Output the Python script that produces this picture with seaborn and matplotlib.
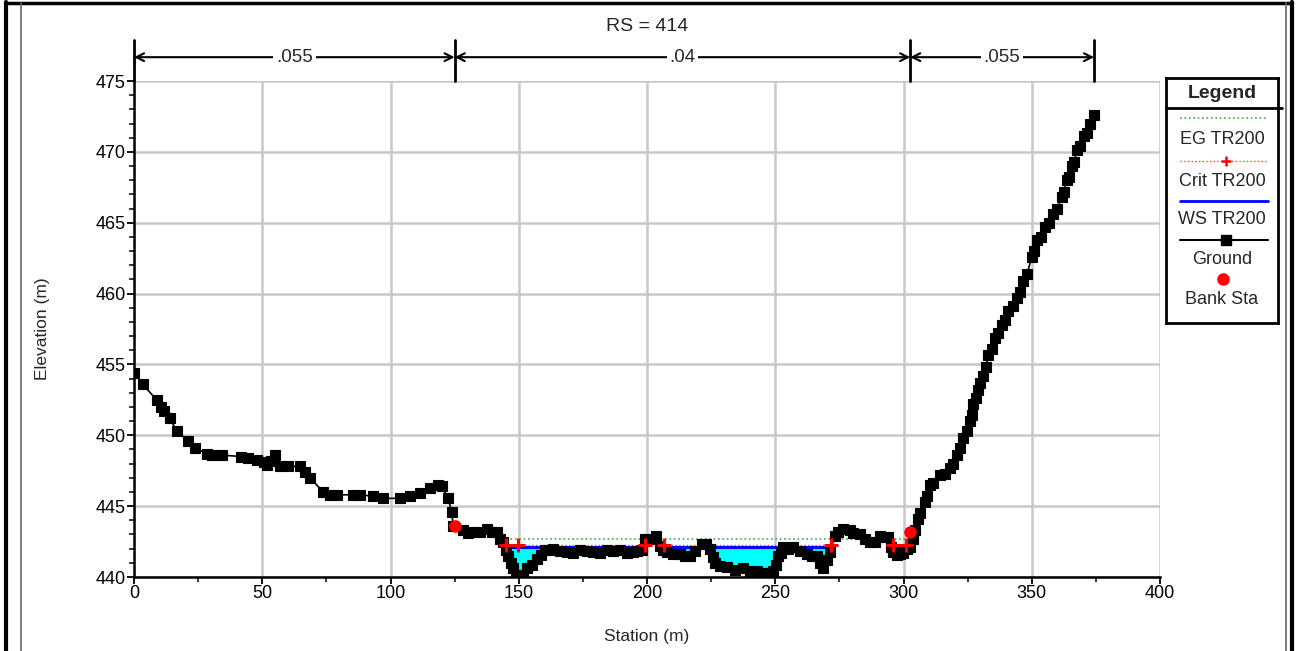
import numpy as np
import pandas as pd
import matplotlib
matplotlib.use("Agg")
import matplotlib.pyplot as plt
from matplotlib.lines import Line2D
import seaborn as sns

# ground profile: station (m), elevation (m)
station = [0, 3.4, 8.8, 10.4, 11.6, 14, 16.6, 21.2, 23.8, 28.3, 30.3, 34.2, 41.9, 44.6,
           47.8, 50.5, 51.7, 53.5, 55, 56.9, 60.2, 64.7, 66.7, 68.6, 73.8, 76.5, 79,
           85.5, 88, 93.3, 97.2, 103.7, 107.6, 111.5, 115.4, 118.6, 119.9, 122.5, 123.8,
           124.5, 128.4, 130.3, 132.3, 134.9, 137.5, 139.4, 141.4, 142.7, 144, 145,
           145.9, 146.9, 147.9, 149, 149.8, 151.5, 153.1, 155, 157, 158.5, 160.2, 161.9,
           163.4, 166.1, 168.7, 171.3, 173.9, 176.5, 179.1, 181.7, 184.3, 186.9, 189.5,
           192.1, 194.7, 196, 197.9, 199.2, 201.2, 203.7, 205, 206.4, 207.7, 210.3,
           212.9, 214.9, 216.8, 218.8, 221.3, 223, 224.6, 225.6, 226.5, 228.5, 231,
           234.3, 237.5, 240.2, 242.7, 244.7, 246.6, 248, 249.2, 250.3, 251.2, 252.1,
           253.1, 255.1, 257, 259.6, 262.2, 264.2, 266.1, 267.4, 268.7, 270, 271.3,
           273.3, 274.6, 276.5, 279.1, 280.4, 283, 285, 286.9, 288.9, 290.8, 292.8,
           294.1, 295, 296, 297.3, 298.6, 299.9, 301.2, 302.5, 303.8, 304.5, 305.7,
           306.4, 308.4, 309, 310.3, 311.6, 314.2, 316.2, 318.1, 319.4, 320.7, 322,
           323.3, 324.6, 325.9, 326.6, 327.2, 328.3, 329.2, 329.8, 331.1, 332.2, 333.1,
           334.4, 335.7, 336.9, 338.3, 339.6, 340.9, 342.5, 344.1, 345.4, 346.7, 348.2,
           350, 350.8, 351.9, 353.5, 355.2, 356.9, 358.4, 360, 361.7, 362.6, 363.6,
           364.7, 365.6, 366.5, 367.6, 368.9, 370.2, 371.4, 372.8, 374.1]
elevation = [454.4, 453.6, 452.5, 452.0, 451.7, 451.2, 450.3, 449.6, 449.1, 448.7, 448.6,
             448.6, 448.5, 448.4, 448.25, 448.1, 447.9, 448.2, 448.6, 447.8, 447.8, 447.8,
             447.4, 447.0, 446.0, 445.8, 445.8, 445.8, 445.8, 445.7, 445.55, 445.55,
             445.7, 445.9, 446.25, 446.5, 446.4, 445.55, 444.6,
             443.6, 443.3, 443.1, 443.2, 443.2, 443.4, 443.2, 443.2, 442.7, 442.5, 441.9,
             441.5, 441.0, 440.6, 440.15, 440.1, 440.15, 440.6, 440.85, 441.3, 441.55,
             441.9, 441.9, 442.0, 441.8, 441.75, 441.7, 441.9, 441.8, 441.75, 441.7,
             441.9, 441.8, 441.9, 441.7, 441.75, 441.8, 441.9, 442.7, 442.7, 442.9,
             442.2, 441.9, 441.75, 441.6, 441.6, 441.5, 441.5, 441.8, 442.3, 442.3,
             442.0, 441.4, 441.0, 440.8, 440.7, 440.5, 440.6, 440.45, 440.45, 440.3,
             440.3, 440.3, 440.45, 440.85, 441.5, 441.7, 442.1, 442.0, 442.1, 441.8,
             441.6, 441.5, 441.5, 441.0, 440.6, 441.2, 441.75, 442.9, 443.2, 443.4,
             443.3, 443.1, 443.05, 442.7, 442.5, 442.5, 442.9, 442.85, 442.8, 442.1,
             441.75, 441.55, 441.6, 441.7, 442.0, 442.1, 442.7, 443.3, 444.1, 444.5,
             445.3, 445.7, 446.5, 446.6, 447.2, 447.3, 447.7, 448.0, 448.6, 449.1,
             449.8, 450.3, 451.0, 451.4, 452.2, 452.6, 453.2, 453.7, 454.2, 454.85,
             455.7, 456.1, 456.9, 457.2, 457.8, 458.1, 458.8, 459.1, 459.7, 460.1,
             460.9, 461.4, 462.6, 463.0, 463.75, 464.0, 464.7, 465.0, 465.6, 466.0,
             466.8, 467.2, 468.0, 468.25, 469.0, 469.3, 470.1, 470.4, 471.1, 471.3,
             472.0, 472.6]

bank_sta = [125.0, 302.6]
bank_elev = [443.6, 443.2]

ws_elev = 442.1
crit_elev = 442.25
eg_elev = 442.7
ws_edges = [(145.0, 199.2), (206.6, 271.6), (296.0, 301.0)]
crit_sta = [145.0, 149.6, 199.2, 206.6, 271.6, 296.0, 301.0]
eg_range = (145.0, 301.2)

n_sta = [0.0, 125.0, 302.6, 374.3]
n_vals = ['.055', '.04', '.055']

df = pd.DataFrame({"Station": station, "Elevation": elevation})

sns.set_style("white")
plt.rcParams['font.family'] = ['Liberation Sans', 'DejaVu Sans']

W, H = 1296, 651
fig = plt.figure(figsize=(W / 100, H / 100), dpi=100)
ax = fig.add_axes([134 / W, 1 - 577 / H, 1026 / W, 496 / H])

sta = np.array(station)
elev = np.array(elevation)
wet = (elev < ws_elev) & (sta > 140) & (sta < 305)
ax.fill_between(sta, elev, ws_elev, where=wet, interpolate=True,
                color="#00ffff", lw=0, zorder=2)

# EG, crit and WS lines
ax.plot(eg_range, [eg_elev, eg_elev], color="#3cb043", ls=":", lw=1.2, zorder=3)
for a, b in ws_edges:
    ax.plot([a, b], [crit_elev, crit_elev], color="#ff4040", ls=":", lw=1, zorder=3)
    ax.plot([a, b], [ws_elev, ws_elev], color="#0000ff", lw=2.2, zorder=3)

sns.lineplot(data=df, x="Station", y="Elevation", ax=ax, color="black", lw=1.2,
             marker="s", markersize=7.5, markeredgewidth=0.8, markeredgecolor="black",
             sort=False, estimator=None, zorder=4)

ax.plot(crit_sta, [crit_elev] * len(crit_sta), ls="none", marker="+",
        color="red", markersize=10, markeredgewidth=2.2, zorder=5)
ax.plot(bank_sta, bank_elev, ls="none", marker="o", color="red",
        markersize=9, markeredgewidth=0, zorder=6)

ax.set_xlim(0, 400)
ax.set_ylim(440, 475)
ax.set_xticks(np.arange(0, 401, 50))
ax.set_xticks(np.arange(0, 401, 25), minor=True)
ax.set_yticks(np.arange(440, 476, 5))
ax.set_yticks(np.arange(440, 476, 1), minor=True)
ax.grid(True, which="major", color="#c8c8c8", lw=1.8, zorder=0)
ax.set_axisbelow(True)
for s in ["top", "right"]:
    ax.spines[s].set_visible(False)
for s in ["left", "bottom"]:
    ax.spines[s].set_color("black")
    ax.spines[s].set_linewidth(1.8)
ax.tick_params(which="major", direction="out", length=5, width=1.3,
               labelsize=13, colors="black", pad=1, left=True, bottom=True)
ax.tick_params(which="minor", direction="out", length=3.5, width=1.3,
               left=True, bottom=True)
ax.set_xlabel("Station (m)", fontsize=12.5, labelpad=19)
ax.set_ylabel("Elevation (m)", fontsize=12.5, labelpad=33)

ax.set_title("RS = 414", fontsize=14, pad=36)

# Manning's n bars and arrows above the plot
trans = ax.get_xaxis_transform()
for s in n_sta:
    ax.plot([s, s], [1.0, 1.083], color="black", lw=2, transform=trans, clip_on=False)
for i, v in enumerate(n_vals):
    mid = (n_sta[i] + n_sta[i + 1]) / 2
    for end in (n_sta[i], n_sta[i + 1]):
        ax.annotate("", xy=(end, 1.048), xytext=(mid, 1.048), xycoords=trans,
                    textcoords=trans,
                    arrowprops=dict(arrowstyle="->", color="black", lw=1.5,
                                    shrinkA=0, shrinkB=0, mutation_scale=14))
    ax.text(mid, 1.048, v, transform=trans, ha="center", va="center", fontsize=13.5,
            bbox=dict(facecolor="white", edgecolor="none", pad=2), zorder=10)

# legend box
lg = fig.add_axes([1166 / W, 1 - 323 / H, 112 / W, 245 / H])
lg.set_xlim(0, 1)
lg.set_ylim(0, 1)
lg.set_xticks([])
lg.set_yticks([])
for s in lg.spines.values():
    s.set_color("black")
    s.set_linewidth(2)


def ly(py):
    return (323 - py) / 245


lg.plot([0, 1.04], [ly(108), ly(108)], color="black", lw=2, clip_on=False)
lg.text(0.5, ly(93), "Legend", ha="center", va="center", fontsize=14, fontweight="bold")
x0, x1, xm = 0.125, 0.911, 0.54
lg.plot([x0, x1], [ly(118), ly(118)], color="#3cb043", ls=":", lw=1.2)
lg.text(0.5, ly(140), "EG TR200", ha="center", va="center", fontsize=13)
lg.plot([x0, x1], [ly(161), ly(161)], color="#ff4040", ls=":", lw=1)
lg.plot([xm], [ly(161)], marker="+", color="red", markersize=7, markeredgewidth=1.8)
lg.text(0.5, ly(181), "Crit TR200", ha="center", va="center", fontsize=13)
lg.plot([x0, x1], [ly(201), ly(201)], color="#0000ff", lw=2)
lg.text(0.5, ly(219), "WS TR200", ha="center", va="center", fontsize=13)
lg.plot([x0, x1], [ly(240), ly(240)], color="black", lw=1.5)
lg.plot([xm], [ly(240)], marker="s", color="black", markersize=7.5)
lg.text(0.5, ly(260), "Ground", ha="center", va="center", fontsize=13)
lg.plot([0.51], [ly(279)], marker="o", color="red", markersize=9, markeredgewidth=0)
lg.text(0.5, ly(299), "Bank Sta", ha="center", va="center", fontsize=13)


# page frame
def fx(px):
    return px / W


def fy(py):
    return 1 - py / H


fig.add_artist(Line2D([fx(6), fx(6)], [fy(2), fy(651)], color="black", lw=3))
fig.add_artist(Line2D([fx(6), fx(1292)], [fy(3), fy(3)], color="black", lw=2.5))
fig.add_artist(Line2D([fx(1292), fx(1292)], [fy(2), fy(651)], color="black", lw=3))
fig.add_artist(Line2D([fx(20.5), fx(20.5)], [fy(3), fy(651)], color="#666666", lw=1.2))
fig.add_artist(Line2D([fx(1285.5), fx(1285.5)], [fy(3), fy(651)], color="#666666", lw=1.2))

fig.savefig("out.png", dpi=100)
